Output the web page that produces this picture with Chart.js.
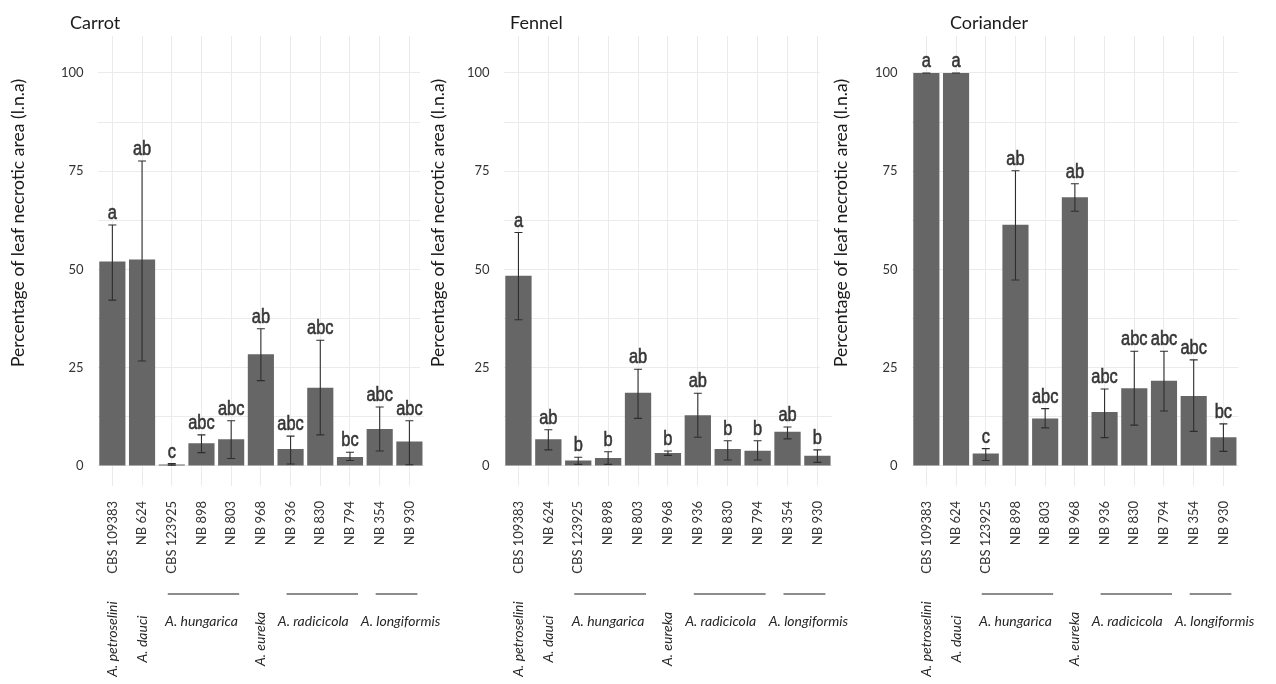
<!DOCTYPE html>
<html>
<head>
<meta charset="utf-8">
<script src="https://cdn.jsdelivr.net/npm/chart.js@4.4.1/dist/chart.umd.min.js"></script>
<style>
  html, body { margin: 0; padding: 0; background: #fff; }
  #wrap { position: relative; width: 1276px; height: 684px; overflow: hidden; }
  canvas { position: absolute; top: 0; }
</style>
</head>
<body>
<div id="wrap">
  <canvas id="carrot" width="440" height="684" style="left:0px"></canvas>
  <canvas id="fennel" width="428" height="684" style="left:420px"></canvas>
  <canvas id="coriander" width="434" height="684" style="left:820px"></canvas>
</div>
<script>
// isolates on the x axis (same order in every panel)
const isolates = ["CBS 109383", "NB 624", "CBS 123925", "NB 898", "NB 803", "NB 968",
  "NB 936", "NB 830", "NB 794", "NB 354", "NB 930"];

// species groups (index range of isolates)
const species = ["A. petroselini", "A. dauci", "A. hungarica", "A. eureka", "A. radicicola", "A. longiformis"];
const speciesFrom = [0, 1, 2, 5, 6, 9];
const speciesTo = [0, 1, 4, 5, 8, 10];

// Carrot
const carrotMean = [52, 52.5, 0.4, 5.8, 6.8, 28.4, 4.3, 19.9, 2.3, 9.4, 6.2];
const carrotLow = [42.2, 26.7, 0.2, 3.4, 1.9, 21.7, 0.5, 7.9, 1.4, 3.8, 0.3];
const carrotHigh = [61.3, 77.6, 0.6, 7.9, 11.5, 34.9, 7.6, 32, 3.5, 15, 11.5];
const carrotLetters = ["a", "ab", "c", "abc", "abc", "ab", "abc", "abc", "bc", "abc", "abc"];

// Fennel
const fennelMean = [48.4, 6.8, 1.4, 2.0, 18.6, 3.3, 12.9, 4.3, 3.9, 8.7, 2.6];
const fennelLow = [37.2, 4.1, 0.4, 0.4, 12.1, 2.7, 7.3, 1.5, 1.5, 6.9, 0.9];
const fennelHigh = [59.4, 9.2, 2.2, 3.6, 24.6, 3.8, 18.5, 6.4, 6.4, 9.9, 4.1];
const fennelLetters = ["a", "ab", "b", "b", "ab", "b", "ab", "b", "b", "ab", "b"];

// Coriander
const corianderMean = [100, 100, 3.2, 61.4, 12.1, 68.4, 13.7, 19.8, 21.7, 17.8, 7.3];
const corianderLow = [100, 100, 1.4, 47.3, 9.7, 64.8, 7.2, 10.4, 14, 8.8, 3.7];
const corianderHigh = [100, 100, 4.4, 75.1, 14.6, 71.8, 19.6, 29.2, 29.2, 27, 10.7];
const corianderLetters = ["a", "a", "c", "ab", "abc", "ab", "abc", "abc", "abc", "abc", "bc"];

// y axis
const yMin = -5.1;
const yMax = 109.4;
const yGridValues = [0, 12.5, 25, 37.5, 50, 62.5, 75, 87.5, 100];
const yTickLabels = [0, 25, 50, 75, 100];
const yTitle = "Percentage of leaf necrotic area (l.n.a)";

const FONT = "Lato, 'Open Sans', sans-serif";
const LETTER_FONT = "'Liberation Sans', Arial, sans-serif";
// small nudges of the horizontal species names (px), as in the figure
const speciesNudge = [0, 0, 0, 0, -7, 6];

// draws error bars, letters, panel title, y title and the species annotations
const panelDecor = {
  id: "panelDecor",
  beforeDraw(chart, args, opts) {
    if (!opts.cover) return;
    const ctx = chart.ctx;
    ctx.save();
    ctx.fillStyle = "#fff";
    ctx.fillRect(0, 0, chart.chartArea.left, opts.coverBottom);
    ctx.restore();
  },
  afterDatasetsDraw(chart, args, opts) {
    const ctx = chart.ctx;
    const x = chart.scales.x, y = chart.scales.y;
    ctx.save();
    ctx.strokeStyle = "#2e2e2e";
    ctx.lineWidth = 1.1;
    opts.low.forEach((lo, i) => {
      const px = x.getPixelForValue(i);
      const pLo = y.getPixelForValue(lo);
      const pHi = y.getPixelForValue(opts.high[i]);
      ctx.beginPath();
      ctx.moveTo(px, pLo); ctx.lineTo(px, pHi);
      ctx.moveTo(px - 4, pLo); ctx.lineTo(px + 4, pLo);
      ctx.moveTo(px - 4, pHi); ctx.lineTo(px + 4, pHi);
      ctx.stroke();
    });
    // significance letters (narrow, slightly heavy)
    ctx.fillStyle = "#363636";
    ctx.strokeStyle = "#363636";
    ctx.lineWidth = 0.6;
    ctx.font = "20px " + LETTER_FONT;
    ctx.textAlign = "center";
    ctx.textBaseline = "alphabetic";
    opts.letters.forEach((l, i) => {
      ctx.save();
      ctx.translate(x.getPixelForValue(i), y.getPixelForValue(opts.high[i]) - 6);
      ctx.scale(0.82, 1);
      ctx.fillText(l, 0, 0);
      ctx.strokeText(l, 0, 0);
      ctx.restore();
    });
    ctx.restore();
  },
  afterDraw(chart, args, opts) {
    const ctx = chart.ctx;
    const x = chart.scales.x;
    ctx.save();
    // panel title
    ctx.fillStyle = "#1a1a1a";
    ctx.font = "18px " + FONT;
    ctx.textAlign = "left";
    ctx.textBaseline = "middle";
    ctx.fillText(opts.title, opts.titleX, 23);
    // y title
    ctx.save();
    ctx.translate(opts.yTitleX, 223);
    ctx.rotate(-Math.PI / 2);
    ctx.textAlign = "center";
    ctx.font = "17.6px " + FONT;
    ctx.fillStyle = "#1a1a1a";
    ctx.fillText(yTitle, 0, 0);
    ctx.restore();
    // species groups
    ctx.font = "italic 14px " + FONT;
    ctx.fillStyle = "#262626";
    species.forEach((name, s) => {
      const a = x.getPixelForValue(speciesFrom[s]);
      const b = x.getPixelForValue(speciesTo[s]);
      if (speciesFrom[s] === speciesTo[s]) {
        ctx.save();
        ctx.translate(a, 639);
        ctx.rotate(-Math.PI / 2);
        ctx.textAlign = "center";
        ctx.textBaseline = "middle";
        ctx.fillText(name, 0, 0);
        ctx.restore();
      } else {
        ctx.strokeStyle = "#8c8c8c";
        ctx.lineWidth = 2;
        ctx.beginPath();
        ctx.moveTo(a - 4, 594); ctx.lineTo(b + 8, 594);
        ctx.stroke();
        ctx.textAlign = "center";
        ctx.textBaseline = "middle";
        ctx.fillText(name, (a + b) / 2 + speciesNudge[s], 621);
      }
    });
    ctx.restore();
  }
};

function makePanel(id, title, mean, low, high, letters, axisWidth, titleX, yTitleX, cover) {
  return new Chart(document.getElementById(id), {
    type: "bar",
    data: {
      labels: isolates,
      datasets: [{
        data: mean,
        backgroundColor: "#666666",
        borderWidth: 0,
        barPercentage: 0.88,
        categoryPercentage: 1.0
      }]
    },
    options: {
      responsive: false,
      animation: false,
      layout: { padding: { top: 36, left: 0, right: 0, bottom: 0 } },
      plugins: {
        legend: { display: false },
        tooltip: { enabled: false },
        title: { display: false },
        panelDecor: { title, low, high, letters, titleX, yTitleX, cover, coverBottom: 380 }
      },
      scales: {
        x: {
          offset: true,
          grid: { color: "#ebebeb", lineWidth: 1, offset: false, drawTicks: false },
          border: { display: false },
          ticks: {
            autoSkip: false, minRotation: 90, maxRotation: 90, padding: 15,
            color: "#333333", font: { family: FONT, size: 13 }
          },
          afterFit(scale) { scale.height = 198; }
        },
        y: {
          min: yMin,
          max: yMax,
          grid: { color: "#ebebeb", lineWidth: 1, drawTicks: false },
          border: { display: false },
          afterBuildTicks(scale) { scale.ticks = yGridValues.map(v => ({ value: v })); },
          ticks: {
            padding: 14,
            color: "#333333",
            font: { family: FONT, size: 13 },
            callback: v => (yTickLabels.includes(v) ? String(v) : "")
          },
          afterFit(scale) { scale.width = axisWidth; }
        }
      }
    },
    plugins: [panelDecor]
  });
}

makePanel("carrot", "Carrot", carrotMean, carrotLow, carrotHigh, carrotLetters, 97.5, 70, 18, false);
makePanel("fennel", "Fennel", fennelMean, fennelLow, fennelHigh, fennelLetters, 83.5, 90, 18, true);
makePanel("coriander", "Coriander", corianderMean, corianderLow, corianderHigh, corianderLetters, 91.5, 130, 21, true);
</script>
</body>
</html>
